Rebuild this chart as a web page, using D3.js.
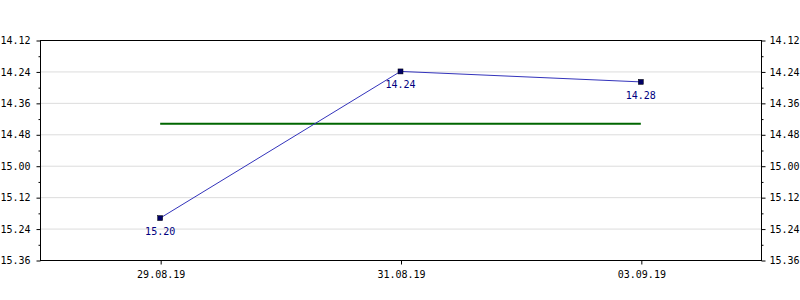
<!DOCTYPE html>
<html>
<head>
<meta charset="utf-8">
<script src="https://cdn.jsdelivr.net/npm/d3@7.9.0/dist/d3.min.js"></script>
<style>
  body { margin: 0; background: #fff; }
  svg { display: block; }
  text { font-family: "DejaVu Sans Mono", monospace; font-size: 10px; }
</style>
</head>
<body>
<svg id="chart" width="800" height="300"></svg>
<script>
// chart values (time as minutes.seconds)
const dates = ["29.08.19", "31.08.19", "03.09.19"];
const values = ["15.20", "14.24", "14.28"];
const average = "14.44";
const yTicks = ["14.12", "14.24", "14.36", "14.48", "15.00", "15.12", "15.24", "15.36"];

// "mm.ss" -> seconds
const toSec = (s) => {
  const [m, sec] = s.split(".").map(Number);
  return m * 60 + sec;
};
const fmt = (v) => {
  const m = Math.floor(v / 60), s = v % 60;
  return m + "." + String(s).padStart(2, "0");
};

const width = 800, height = 300;
const margin = { top: 40, right: 39, bottom: 40, left: 40 };
const svg = d3.select("#chart");

const x = d3.scalePoint()
  .domain(dates)
  .range([margin.left, width - margin.right])
  .padding(0.5);

const y = d3.scaleLinear()
  .domain([toSec(yTicks[0]), toSec(yTicks[yTicks.length - 1])])
  .range([margin.top, height - margin.bottom]);

const majorTicks = yTicks.map(toSec);
const minorTicks = d3.range(toSec(yTicks[0]), toSec(yTicks[yTicks.length - 1]), 6)
  .filter((d) => !majorTicks.includes(d));

// gridlines
svg.append("g")
  .selectAll("line")
  .data(majorTicks.slice(1, -1))
  .join("line")
  .attr("x1", margin.left).attr("x2", width - margin.right)
  .attr("y1", (d) => y(d) + 0.5).attr("y2", (d) => y(d) + 0.5)
  .attr("stroke", "#dcdcdc");

// frame
svg.append("rect")
  .attr("x", margin.left + 0.5).attr("y", margin.top + 0.5)
  .attr("width", width - margin.left - margin.right)
  .attr("height", height - margin.top - margin.bottom)
  .attr("fill", "none").attr("stroke", "#000");

// y axes, left and right
const yAxisLeft = d3.axisLeft(y).tickValues(majorTicks).tickFormat(fmt).tickSize(4).tickPadding(6);
const yAxisRight = d3.axisRight(y).tickValues(majorTicks).tickFormat(fmt).tickSize(4).tickPadding(4);

const gl = svg.append("g").attr("transform", `translate(${margin.left + 0.5},0.5)`).call(yAxisLeft);
const gr = svg.append("g").attr("transform", `translate(${width - margin.right + 0.5},0.5)`).call(yAxisRight);
[gl, gr].forEach((g) => {
  g.select(".domain").remove();
  g.selectAll("text").attr("fill", "#000").attr("font-size", 10).attr("font-family", "DejaVu Sans Mono");
  g.selectAll("line").attr("stroke", "#000");
});
svg.append("g").attr("transform", `translate(${margin.left + 0.5},0.5)`)
  .call(d3.axisLeft(y).tickValues(minorTicks).tickFormat("").tickSize(2))
  .call((g) => g.select(".domain").remove());
svg.append("g").attr("transform", `translate(${width - margin.right + 0.5},0.5)`)
  .call(d3.axisRight(y).tickValues(minorTicks).tickFormat("").tickSize(2))
  .call((g) => g.select(".domain").remove());

// x axis
const gx = svg.append("g")
  .attr("transform", `translate(0.5,${height - margin.bottom + 0.5})`)
  .call(d3.axisBottom(x).tickSize(4).tickPadding(6));
gx.select(".domain").remove();
gx.selectAll("text").attr("fill", "#000").attr("font-size", 10).attr("font-family", "DejaVu Sans Mono");

// average line
svg.append("line")
  .attr("x1", x(dates[0])).attr("x2", x(dates[dates.length - 1]))
  .attr("y1", y(toSec(average))).attr("y2", y(toSec(average)))
  .attr("stroke", "#006600").attr("stroke-width", 2);

// series line
const pts = dates.map((d, i) => ({ date: d, label: values[i], v: toSec(values[i]) }));
svg.append("path")
  .datum(pts)
  .attr("fill", "none")
  .attr("stroke", "#3333bb")
  .attr("stroke-width", 1)
  .attr("d", d3.line().x((d) => x(d.date)).y((d) => y(d.v)));

svg.append("g")
  .selectAll("rect")
  .data(pts)
  .join("rect")
  .attr("x", (d) => x(d.date) - 2.5)
  .attr("y", (d) => y(d.v) - 2.5)
  .attr("width", 5).attr("height", 5)
  .attr("fill", "#000066").attr("stroke", "#000").attr("stroke-width", 0.5);

svg.append("g")
  .selectAll("text")
  .data(pts)
  .join("text")
  .attr("x", (d) => x(d.date))
  .attr("y", (d) => y(d.v) + 17)
  .attr("text-anchor", "middle")
  .attr("fill", "#000080")
  .text((d) => d.label);
</script>
</body>
</html>
